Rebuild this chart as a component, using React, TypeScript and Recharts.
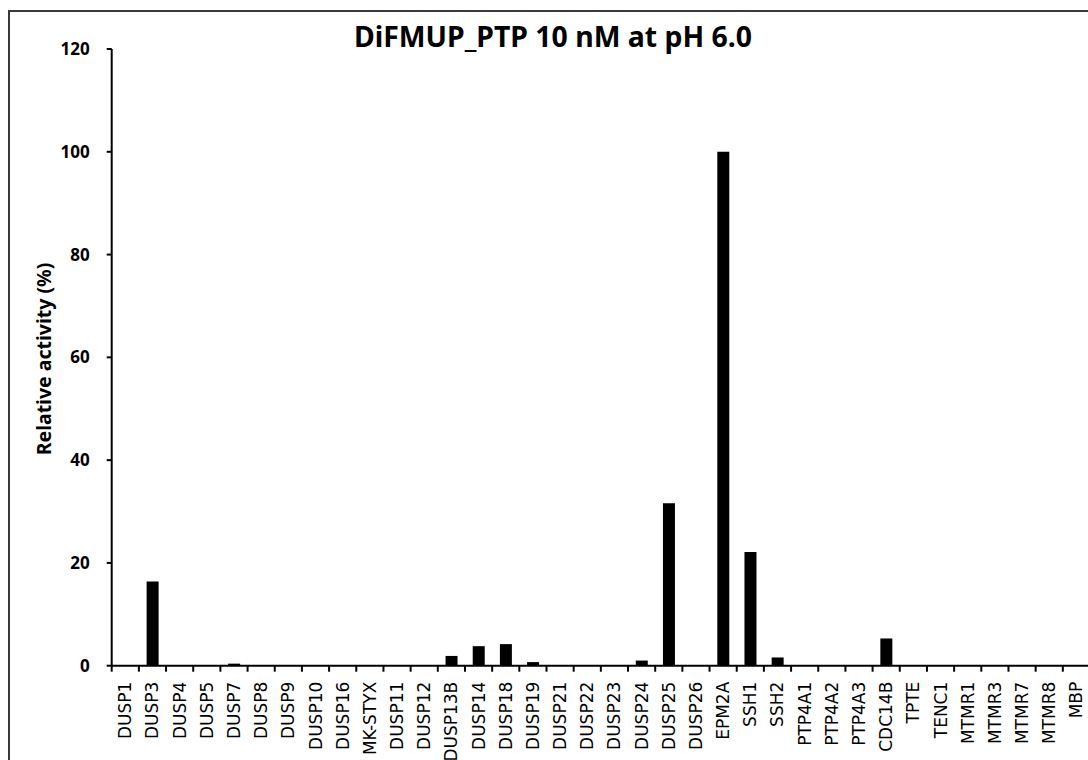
import React from 'react';
import { BarChart, Bar, XAxis, YAxis } from 'recharts';

const categories = [
  'DUSP1', 'DUSP3', 'DUSP4', 'DUSP5', 'DUSP7', 'DUSP8', 'DUSP9', 'DUSP10', 'DUSP16', 'MK-STYX',
  'DUSP11', 'DUSP12', 'DUSP13B', 'DUSP14', 'DUSP18', 'DUSP19', 'DUSP21', 'DUSP22', 'DUSP23', 'DUSP24',
  'DUSP25', 'DUSP26', 'EPM2A', 'SSH1', 'SSH2', 'PTP4A1', 'PTP4A2', 'PTP4A3', 'CDC14B', 'TPTE',
  'TENC1', 'MTMR1', 'MTMR3', 'MTMR7', 'MTMR8', 'MBP',
];

const activity = [
  0, 16.4, 0, 0, 0.4, 0, 0, 0, 0, 0,
  0, 0, 1.9, 3.8, 4.2, 0.7, 0, 0, 0, 1.0,
  31.6, 0, 100, 22.1, 1.6, 0, 0, 0, 5.3, 0,
  0, 0, 0, 0, 0, 0,
];

const yTicks = [0, 20, 40, 60, 80, 100, 120];

const title = 'DiFMUP_PTP 10 nM at pH 6.0';
const yLabel = 'Relative activity (%)';

const data = categories.map((name, i) => ({ name, value: activity[i] }));

const FONT = '"Noto Sans", "DejaVu Sans", sans-serif';
const WIDE = '"DejaVu Sans", "Noto Sans", sans-serif';

const XTick = (props: any) => {
  const { x, y, payload, index, visibleTicksCount } = props;
  const half = payload && payload.offset ? payload.offset : 0;
  const ly = y + 16;
  return (
    <g>
      <line x1={x - half} x2={x - half} y1={y} y2={y + 6} stroke="#000" strokeWidth={2} />
      {index === visibleTicksCount - 1 ? (
        <line x1={x + half} x2={x + half} y1={y} y2={y + 6} stroke="#000" strokeWidth={2} />
      ) : null}
      <text
        x={x}
        y={ly}
        transform={`rotate(-90, ${x}, ${ly})`}
        textAnchor="end"
        dominantBaseline="central"
        fontFamily={WIDE}
        fontSize={17}
        fill="#000"
      >
        {payload.value}
      </text>
    </g>
  );
};

export default function App() {
  return (
    <div
      style={{
        position: 'fixed',
        left: 0,
        top: 0,
        width: 1088,
        height: 760,
        overflow: 'hidden',
        background: '#fff',
      }}
    >
      <div
        style={{
          position: 'absolute',
          left: 8,
          top: 10,
          width: 1200,
          height: 900,
          border: '2px solid #3a3a3a',
          boxSizing: 'border-box',
        }}
      />
      <div
        style={{
          position: 'absolute',
          left: 0,
          top: 22,
          width: 1106,
          textAlign: 'center',
          fontFamily: FONT,
          fontWeight: 700,
          fontSize: 28.4,
          lineHeight: '28px',
          whiteSpace: 'nowrap',
          color: '#000',
        }}
      >
        {title}
      </div>
      <div
        style={{
          position: 'absolute',
          left: 44,
          top: 359,
          transform: 'translate(-50%, -50%) rotate(-90deg)',
          fontFamily: FONT,
          fontWeight: 700,
          fontSize: 19.5,
          lineHeight: '20px',
          whiteSpace: 'nowrap',
          color: '#000',
        }}
      >
        {yLabel}
      </div>
      <div style={{ position: 'absolute', left: 10, top: 12 }}>
        <BarChart
          width={1100}
          height={800}
          data={data}
          margin={{ top: 37, right: 20, bottom: 0, left: 0 }}
          barCategoryGap="28.5%"
        >
          <XAxis
            dataKey="name"
            type="category"
            interval={0}
            height={146.3}
            axisLine={{ stroke: '#000', strokeWidth: 2 }}
            tickLine={false}
            tickSize={0}
            tickMargin={0}
            tick={<XTick />}
          />
          <YAxis
            domain={[0, 120]}
            ticks={yTicks}
            width={101.7}
            tickSize={5}
            tickMargin={17}
            axisLine={{ stroke: '#000', strokeWidth: 2 }}
            tickLine={{ stroke: '#000', strokeWidth: 2 }}
            tick={{ fill: '#000', fontFamily: FONT, fontWeight: 700, fontSize: 17 }}
          />
          <Bar dataKey="value" fill="#000" isAnimationActive={false} />
        </BarChart>
      </div>
    </div>
  );
}
